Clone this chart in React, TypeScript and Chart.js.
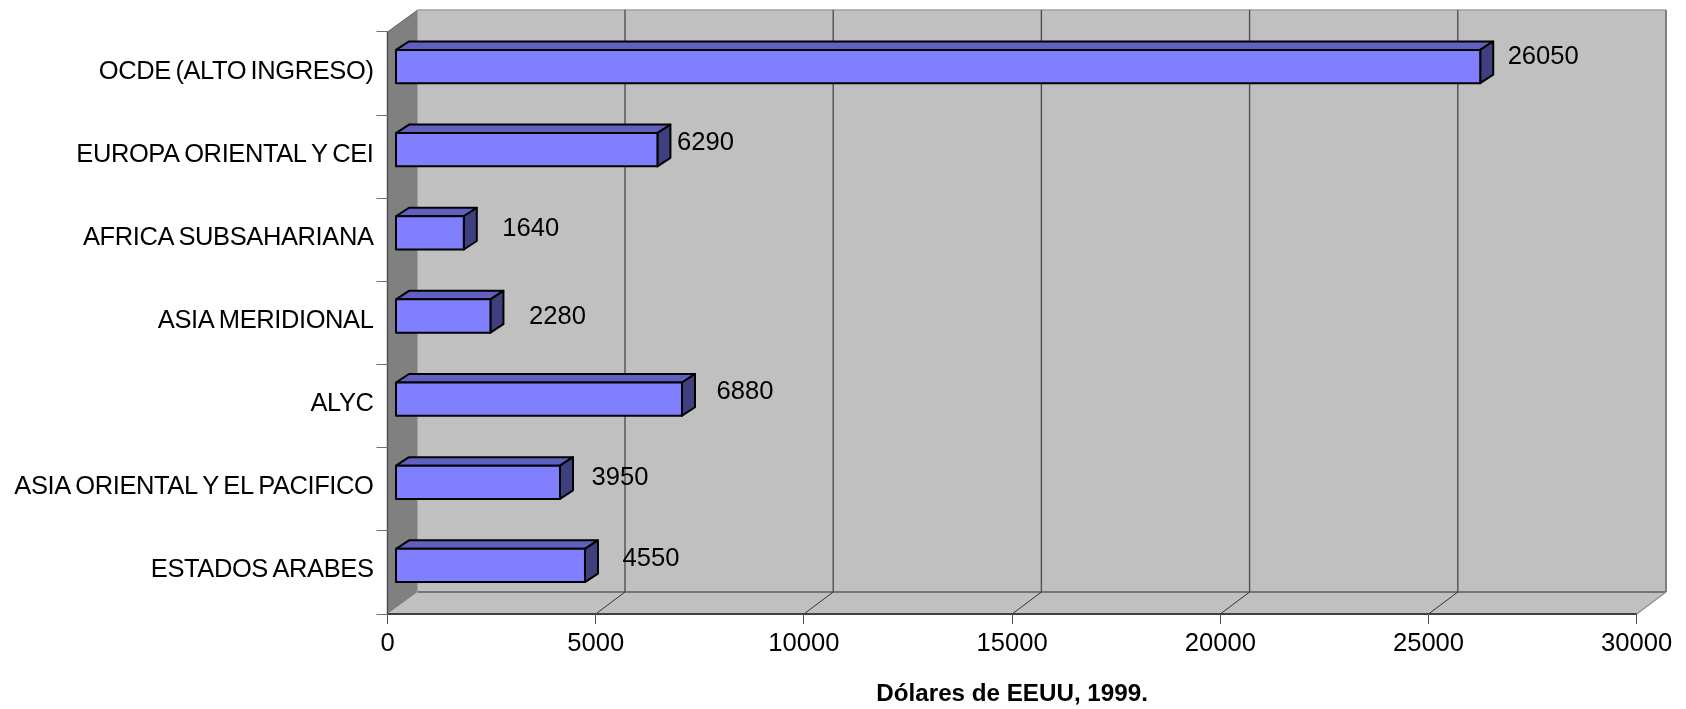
import React, { useEffect, useRef } from "react";
import { Chart, registerables } from "chart.js";

Chart.register(...registerables);

const categories = [
  "OCDE (ALTO INGRESO)",
  "EUROPA ORIENTAL Y CEI",
  "AFRICA SUBSAHARIANA",
  "ASIA MERIDIONAL",
  "ALYC",
  "ASIA ORIENTAL Y EL PACIFICO",
  "ESTADOS ARABES",
];
const values = [26050, 6290, 1640, 2280, 6880, 3950, 4550];
const xTicks = [0, 5000, 10000, 15000, 20000, 25000, 30000];
const xTitle = "Dólares de EEUU, 1999.";

// Hand-placed label nudges relative to each bar's end (as in the original chart)
const labelNudgeX = [63, 48, 67, 67, 63, 60, 66];
const labelNudgeY = [-10, -7, -4, 1, -7, -4, -6];

const FONT = '"Liberation Sans", Arial, sans-serif';
const DEPTH_X = 29.3;
const DEPTH_LEFT_X = 30.2;
const DEPTH_Y = 22;
const BAR_SHIFT_X = 8;
const BAR_SHIFT_Y = 7;
const BAR_DX = 13;
const BAR_DY = 8.5;

const poly = (ctx: CanvasRenderingContext2D, pts: number[][], fill: string | null, stroke: string | null, lw = 1) => {
  ctx.beginPath();
  pts.forEach((p, i) => (i ? ctx.lineTo(p[0], p[1]) : ctx.moveTo(p[0], p[1])));
  ctx.closePath();
  if (fill) {
    ctx.fillStyle = fill;
    ctx.fill();
  }
  if (stroke) {
    ctx.strokeStyle = stroke;
    ctx.lineWidth = lw;
    ctx.lineJoin = "round";
    ctx.stroke();
  }
};

const line = (ctx: CanvasRenderingContext2D, x1: number, y1: number, x2: number, y2: number, color: string, lw: number) => {
  ctx.beginPath();
  ctx.moveTo(x1, y1);
  ctx.lineTo(x2, y2);
  ctx.strokeStyle = color;
  ctx.lineWidth = lw;
  ctx.stroke();
};

const walls = {
  id: "walls",
  beforeDraw(chart: any) {
    const { ctx, chartArea: a, scales } = chart;
    // the original's category labels are set tight, with narrow word spaces
    const y = scales.y;
    if (!y.__tight) {
      y.__tight = true;
      const orig = y.drawLabels.bind(y);
      y.drawLabels = (area: any) => {
        ctx.save();
        (ctx as any).letterSpacing = "-0.4px";
        (ctx as any).wordSpacing = "-2.2px";
        orig(area);
        ctx.restore();
      };
    }
    ctx.save();
    ctx.fillStyle = "#ffffff";
    ctx.fillRect(0, 0, chart.width, chart.height);
    const dx = DEPTH_X;
    const lx = DEPTH_LEFT_X;
    const dy = DEPTH_Y;
    // back wall
    poly(ctx, [[a.left + lx, a.top - dy], [a.right + dx, a.top - dy], [a.right + dx, a.bottom - dy], [a.left + lx, a.bottom - dy]], "#C0C0C0", null);
    // floor
    poly(ctx, [[a.left, a.bottom], [a.left + lx, a.bottom - dy], [a.right + dx, a.bottom - dy], [a.right, a.bottom]], "#C0C0C0", null);
    // side wall
    poly(ctx, [[a.left, a.top], [a.left + lx, a.top - dy], [a.left + lx, a.bottom - dy], [a.left, a.bottom]], "#808080", null);
    // wall edges
    line(ctx, a.left + lx, a.top - dy, a.right + dx, a.top - dy, "#A0A0A0", 1.5);
    line(ctx, a.right + dx, a.top - dy, a.right + dx, a.bottom - dy, "#808080", 2);
    line(ctx, a.left + lx, a.bottom - dy, a.right + dx, a.bottom - dy, "#757575", 2);
    line(ctx, a.right, a.bottom, a.right + dx, a.bottom - dy, "#909090", 1.5);
    line(ctx, a.left, a.top, a.left + lx, a.top - dy, "#606060", 1);
    // grid on back wall and floor
    xTicks.slice(1, -1).forEach((v) => {
      const x = scales.x.getPixelForValue(v);
      line(ctx, x + dx, a.top - dy, x + dx, a.bottom - dy, "#505050", 1.4);
      line(ctx, x, a.bottom, x + dx, a.bottom - dy, "#333333", 1);
    });
    // front axis lines
    line(ctx, a.left, a.top, a.left, a.bottom, "#505050", 1.5);
    line(ctx, a.left, a.bottom, a.right, a.bottom, "#404040", 2);
    ctx.restore();
  },
  beforeDatasetDraw(chart: any, args: any) {
    const { ctx } = chart;
    ctx.save();
    ctx.translate(BAR_SHIFT_X, -BAR_SHIFT_Y);
    const meta = chart.getDatasetMeta(args.index);
    meta.data.forEach((bar: any) => {
      const top = bar.y - bar.height / 2;
      const bottom = bar.y + bar.height / 2;
      const left = bar.base;
      const right = bar.x;
      poly(ctx, [[left, top], [left + BAR_DX, top - BAR_DY], [right + BAR_DX, top - BAR_DY], [right, top]], "#6060C0", "#000000", 2);
      poly(ctx, [[right, top], [right + BAR_DX, top - BAR_DY], [right + BAR_DX, bottom - BAR_DY], [right, bottom]], "#404080", "#000000", 2);
    });
  },
  afterDatasetDraw(chart: any, args: any) {
    const { ctx } = chart;
    const meta = chart.getDatasetMeta(args.index);
    meta.data.forEach((bar: any) => {
      ctx.strokeStyle = "#000000";
      ctx.lineWidth = 2;
      ctx.lineJoin = "round";
      ctx.strokeRect(bar.base, bar.y - bar.height / 2, bar.x - bar.base, bar.height);
    });
    ctx.restore();
  },
  afterDatasetsDraw(chart: any) {
    const { ctx } = chart;
    const meta = chart.getDatasetMeta(0);
    ctx.save();
    ctx.fillStyle = "#000000";
    ctx.font = `25.6px ${FONT}`;
    ctx.textAlign = "center";
    ctx.textBaseline = "middle";
    meta.data.forEach((bar: any, i: number) => {
      ctx.fillText(
        String(values[i]),
        bar.x + BAR_SHIFT_X + labelNudgeX[i],
        bar.y - BAR_SHIFT_Y + labelNudgeY[i]
      );
    });
    ctx.restore();
  },
};

export default function App() {
  const ref = useRef<HTMLCanvasElement>(null);
  useEffect(() => {
    const canvas = ref.current!;
    const chart = new Chart(canvas, {
      type: "bar",
      data: {
        labels: categories,
        datasets: [
          {
            data: values,
            backgroundColor: "#8080FF",
            borderWidth: 0,
            barPercentage: 0.4,
            categoryPercentage: 1,
            clip: false,
          },
        ],
      },
      options: {
        indexAxis: "y",
        animation: false,
        responsive: false,
        events: [],
        layout: { padding: { top: 32, right: 49.3, left: 0, bottom: 0 } },
        plugins: { legend: { display: false }, title: { display: false }, tooltip: { enabled: false } },
        scales: {
          x: {
            type: "linear",
            min: 0,
            max: 30000,
            afterFit: (s: any) => {
              s.height = 95;
            },
            afterBuildTicks: (s: any) => {
              s.ticks = xTicks.map((value) => ({ value }));
            },
            border: { display: false },
            grid: { drawOnChartArea: false, drawTicks: true, tickLength: 10, color: "#505050", lineWidth: 1 },
            ticks: {
              color: "#000000",
              font: { family: FONT, size: 25.6 },
              padding: 5,
              maxRotation: 0,
              autoSkip: false,
              callback: (v: any) => String(v),
            },
            title: {
              display: true,
              text: xTitle,
              color: "#000000",
              font: { family: FONT, size: 24.2, weight: "bold" },
              padding: { top: 0, bottom: 0 },
            },
          },
          y: {
            type: "category",
            afterFit: (s: any) => {
              s.width = 387.5;
            },
            border: { display: false },
            grid: { drawOnChartArea: false, drawTicks: true, tickLength: 11, color: "#707070", lineWidth: 1 },
            ticks: { color: "#000000", font: { family: FONT, size: 25.5 }, padding: 3, autoSkip: false, labelOffset: -2 },
          },
        },
      },
      plugins: [walls],
    } as any);
    return () => chart.destroy();
  }, []);
  return (
    <canvas
      ref={ref}
      width={1686}
      height={709}
      style={{ position: "absolute", left: 0, top: 0, display: "block", width: 1686, height: 709 }}
    />
  );
}
